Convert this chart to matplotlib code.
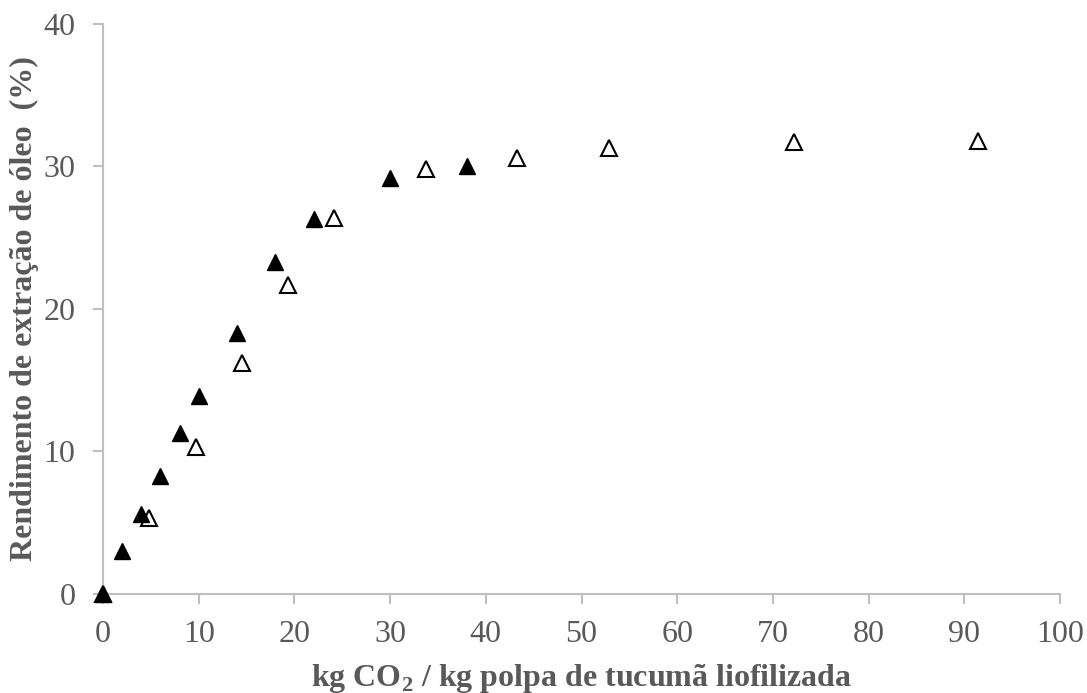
import numpy as np
import matplotlib.pyplot as plt

plt.rcParams['font.family'] = ['Liberation Serif', 'DejaVu Serif']
plt.rcParams['mathtext.fontset'] = 'custom'
plt.rcParams['mathtext.bf'] = 'Liberation Serif:bold'
plt.rcParams['mathtext.rm'] = 'Liberation Serif'

# filled triangles
x_filled = [0, 2, 4, 6, 8, 10, 14, 18, 22, 30, 38]
y_filled = [0, 3.0, 5.6, 8.3, 11.3, 13.9, 18.3, 23.3, 26.3, 29.2, 30.0]

# open triangles
x_open = [0, 4.8, 9.7, 14.5, 19.3, 24.1, 33.7, 43.3, 52.9, 72.2, 91.4]
y_open = [0, 5.3, 10.3, 16.2, 21.7, 26.4, 29.8, 30.6, 31.3, 31.7, 31.8]

gray = '#595959'
axcol = '#bfbfbf'

fig = plt.figure(figsize=(10.87, 6.93), dpi=100)
ax = fig.add_axes([0.0948, 0.1429, 0.8804, 0.8225])

ax.plot(x_open, y_open, linestyle='none', marker='^', ms=11, mfc='white',
        mec='black', mew=1.5, clip_on=False, zorder=3)
ax.plot(x_filled, y_filled, linestyle='none', marker='^', ms=11, mfc='black',
        mec='black', clip_on=False, zorder=4)

ax.set_xlim(0, 100)
ax.set_ylim(0, 40)
ax.set_xticks(np.arange(0, 101, 10))
ax.set_yticks(np.arange(0, 41, 10))

for s in ['top', 'right']:
    ax.spines[s].set_visible(False)
for s in ['left', 'bottom']:
    ax.spines[s].set_color(axcol)
    ax.spines[s].set_linewidth(1.5)

ax.tick_params(axis='both', colors=axcol, labelcolor=gray, labelsize=23,
               length=7, width=1.5, direction='out')
ax.tick_params(axis='x', pad=12)
ax.tick_params(axis='y', pad=13)

ax.set_xlabel(r'kg CO$_\mathbf{2}$ / kg polpa de tucumã liofilizada',
              fontsize=23, fontweight='bold', color=gray, labelpad=9)
ax.set_ylabel('Rendimento de extração de óleo  (%)', fontsize=23,
              fontweight='bold', color=gray, labelpad=3)

fig.savefig('out.png', dpi=100)
